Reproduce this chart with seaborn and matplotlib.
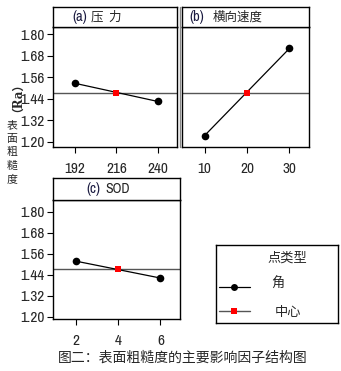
import matplotlib
matplotlib.use("Agg")
import matplotlib.pyplot as plt
import seaborn as sns
import pandas as pd
from matplotlib.lines import Line2D

sns.set_style("white")
plt.rcParams['font.family'] = ['Archivo Narrow', 'Liberation Sans', 'Noto Sans CJK SC', 'DejaVu Sans']
CJK = ['Noto Sans CJK SC', 'DejaVu Sans']

# data
pressure_levels = ["192", "216", "240"]
pressure_corner = [1.526, None, 1.425]
speed_levels = ["10", "20", "30"]
speed_corner = [1.235, None, 1.720]
sod_levels = ["2", "4", "6"]
sod_corner = [1.518, None, 1.421]
center_value = 1.470
mean_line = 1.474
yticks = [1.20, 1.32, 1.44, 1.56, 1.68, 1.80]
panel_titles = ["(a)", "(b)", "(c)"]
panel_names = ["压  力", "横向速度", "SOD"]
ylabel_chars = ["表", "面", "粗", "糙", "度"]

W, H = 341, 371
fig = plt.figure(figsize=(W / 100, H / 100), dpi=100)

def px(x0, y0, x1, y1):
    return [x0 / W, 1 - y1 / H, (x1 - x0) / W, (y1 - y0) / H]

def panel(box, strip, levels, corner, tag, name, tag_x, name_x, ylim, show_y, name_family):
    ax = fig.add_axes(px(*box))
    xs = [0, 2]
    df = pd.DataFrame({"x": xs, "y": [corner[0], corner[2]]})
    sns.lineplot(data=df, x="x", y="y", ax=ax, color="black", lw=0.9,
                 marker="o", markersize=5.5, markeredgewidth=0, legend=False)
    dc = pd.DataFrame({"x": [1], "y": [center_value]})
    sns.scatterplot(data=dc, x="x", y="y", ax=ax, color="#ff0000", marker="s",
                    s=22, linewidth=0, legend=False, zorder=5)
    ax.axhline(mean_line, color="#555555", lw=1.0, zorder=1)
    ax.set_xlim(-0.53, 2.46)
    ax.set_ylim(*ylim)
    ax.set_xticks([0, 1, 2])
    ax.set_xticklabels(levels)
    ax.set_yticks(yticks)
    if show_y:
        ax.set_yticklabels([f"{v:.2f}" for v in yticks])
    else:
        ax.tick_params(axis="y", left=False, labelleft=False)
    ax.tick_params(axis="both", labelsize=11, length=4, width=0.8, color="black",
                   pad=7, direction="out", bottom=True, left=show_y)
    ax.tick_params(axis="y", pad=2)
    ax.set_xlabel("")
    ax.set_ylabel("")
    for s in ax.spines.values():
        s.set_color("black")
        s.set_linewidth(1.0)
    # strip
    sx = fig.add_axes(px(*strip))
    sx.set_xticks([])
    sx.set_yticks([])
    for s in sx.spines.values():
        s.set_color("black")
        s.set_linewidth(1.0)
    yc = 1 - (strip[1] + strip[3]) / 2 / H
    fig.text(tag_x / W, yc, tag, fontsize=10.5, va="center", ha="left", color="#1a1a40")
    fig.text(name_x / W, yc, name, fontsize=10 if name_family != CJK else 9,
             va="center", ha="left", family=name_family)
    return ax

panel((53, 27, 177, 147), (53, 7, 177, 27), pressure_levels, pressure_corner,
      panel_titles[0], panel_names[0], 72, 91, (1.172, 1.839), True, CJK)
panel((182, 27, 309, 147), (182, 7, 309, 27), speed_levels, speed_corner,
      panel_titles[1], panel_names[1], 189, 213, (1.172, 1.839), False, CJK)
panel((53, 200, 180, 319), (53, 178, 180, 200), sod_levels, sod_corner,
      panel_titles[2], panel_names[2], 86, 105, (1.187, 1.867), True,
      ['Archivo Narrow', 'DejaVu Sans'])

# double left border on panel b
fig.add_artist(Line2D([179.5 / W, 179.5 / W], [1 - 7 / H, 1 - 147 / H],
                      color="#888888", lw=1.0))

# legend box
lg = fig.add_axes(px(216, 245, 338, 323))
lg.set_xlim(216, 338)
lg.set_ylim(323, 245)
lg.set_xticks([])
lg.set_yticks([])
for s in lg.spines.values():
    s.set_color("black")
    s.set_linewidth(1.0)
lg.text(287, 258, "点类型", ha="center", va="center", fontsize=9.5, family=CJK)
lg.plot([219, 250], [287, 287], color="black", lw=0.9)
lg.plot([234], [287], marker="o", color="black", markersize=5, markeredgewidth=0)
lg.text(278, 284, "角", ha="center", va="center", fontsize=9.5, family=CJK)
lg.plot([219, 250], [311, 311], color="#555555", lw=1.0)
lg.plot([234], [311], marker="s", color="#ff0000", markersize=4.5, markeredgewidth=0)
lg.text(288, 312, "中心", ha="center", va="center", fontsize=9.5, family=CJK)

# y label
fig.text(12 / W, 1 - 91 / H, "（Ra）", rotation=90, ha="center", va="center",
         fontsize=8.5, fontweight="bold", family=['DejaVu Serif'] + CJK)
for i, ch in enumerate(ylabel_chars):
    fig.text(12 / W, 1 - (125 + i * 13.75) / H, ch, ha="center", va="center",
             fontsize=7.8, family=CJK)

# caption
fig.text(183 / W, 1 - 358 / H, "图二：表面粗糙度的主要影响因子结构图", ha="center",
         va="center", fontsize=10, family=CJK)

fig.savefig("out.png", dpi=100)
